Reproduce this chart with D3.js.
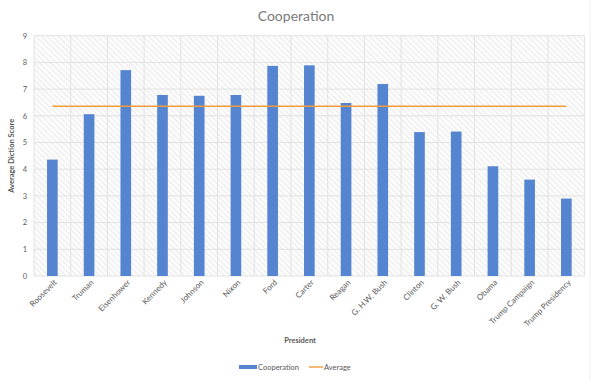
<!DOCTYPE html>
<html><head><meta charset="utf-8">
<script src="https://cdn.jsdelivr.net/npm/d3@7"></script>
<style>body{margin:0;background:#fff;} svg{display:block;font-family:Lato, "Open Sans", sans-serif;}</style>
</head><body>
<svg id="c" width="596" height="381"></svg>
<script>
const presidents = ["Roosevelt","Truman","Eisenhower","Kennedy","Johnson","Nixon","Ford","Carter","Reagan","G. H.W. Bush","Clinton","G. W. Bush","Obama","Trump Campaign","Trump Presidency"];
const cooperation = [4.36,6.06,7.71,6.78,6.75,6.78,7.87,7.89,6.48,7.19,5.39,5.41,4.11,3.61,2.90];
const averageValue = 6.36;
const yTicks = [0,1,2,3,4,5,6,7,8,9];

const svg = d3.select("#c");
const m = {l:34, r:584.7, t:35.7, b:276};
const x = d3.scaleBand().domain(presidents).range([m.l, m.r]).paddingInner(0.71).paddingOuter(0.355);
const xb = d3.scaleBand().domain(presidents).range([m.l, m.r]);
const y = d3.scaleLinear().domain([0,9]).range([m.b, m.t]);

const defs = svg.append("defs");
const pat = defs.append("pattern").attr("id","hatch").attr("patternUnits","userSpaceOnUse")
  .attr("width",4).attr("height",4).attr("patternTransform","rotate(45)");
pat.append("rect").attr("width",4).attr("height",4).attr("fill","#fcfcfc");
pat.append("line").attr("x1",0).attr("y1",0).attr("x2",4).attr("y2",0).attr("stroke","#e4e4e4").attr("stroke-width",1.4);

svg.append("rect").attr("x",m.l).attr("y",m.t).attr("width",m.r-m.l).attr("height",m.b-m.t).attr("fill","url(#hatch)");

// horizontal gridlines
svg.append("g").selectAll("line").data(yTicks).join("line")
  .attr("x1",m.l).attr("x2",m.r).attr("y1",d=>y(d)).attr("y2",d=>y(d))
  .attr("stroke","#e2e2e2").attr("stroke-width",1);
// vertical gridlines
const bounds = presidents.map(p=>xb(p)).concat([m.r]);
svg.append("g").selectAll("line").data(bounds).join("line")
  .attr("x1",d=>d).attr("x2",d=>d).attr("y1",m.t).attr("y2",m.b)
  .attr("stroke","#e2e2e2").attr("stroke-width",1);

// y tick labels
svg.append("g").selectAll("text").data(yTicks).join("text")
  .attr("x",27).attr("y",d=>y(d)+2.8).attr("text-anchor","end")
  .attr("font-size",7.5).attr("fill","#595959").text(d=>d);

// bars
svg.append("g").selectAll("rect").data(presidents).join("rect")
  .attr("x",d=>x(d)).attr("width",x.bandwidth())
  .attr("y",(d,i)=>y(cooperation[i])).attr("height",(d,i)=>y(0)-y(cooperation[i]))
  .attr("fill","#5585d1");

// average line
svg.append("line")
  .attr("x1",x(presidents[0])+x.bandwidth()/2).attr("x2",x(presidents[presidents.length-1])+x.bandwidth()/2)
  .attr("y1",y(averageValue)).attr("y2",y(averageValue))
  .attr("stroke","#f39a3a").attr("stroke-width",1.6);

// x labels
svg.append("g").selectAll("text").data(presidents).join("text")
  .attr("transform",d=>`translate(${x(d)+x.bandwidth()/2+5},${m.b+7}) rotate(-45)`)
  .attr("text-anchor","end").attr("font-size",8).attr("fill","#595959").text(d=>d);

// title
svg.append("text").attr("x",296).attr("y",21).attr("text-anchor","middle")
  .attr("font-size",14).attr("fill","#7a7a7a").text("Cooperation");

// axis titles
svg.append("text").attr("x",300).attr("y",343).attr("text-anchor","middle")
  .attr("font-size",7.5).attr("font-weight","bold").attr("fill","#595959").text("President");
svg.append("text").attr("transform",`translate(14,${(m.t+m.b)/2}) rotate(-90)`).attr("text-anchor","middle")
  .attr("font-size",7.5).attr("font-weight","bold").attr("fill","#595959").text("Average Diction Score");

// legend
svg.append("rect").attr("x",239).attr("y",365).attr("width",18).attr("height",4).attr("fill","#5585d1");
svg.append("text").attr("x",258).attr("y",369.8).attr("font-size",7.5).attr("fill","#595959").text("Cooperation");
svg.append("line").attr("x1",309).attr("x2",323).attr("y1",367).attr("y2",367).attr("stroke","#f39a3a").attr("stroke-width",1.4);
svg.append("text").attr("x",324).attr("y",369.8).attr("font-size",7.5).attr("fill","#595959").text("Average");

// right faint border
svg.append("line").attr("x1",590).attr("x2",590).attr("y1",0).attr("y2",381).attr("stroke","#eeeeee").attr("stroke-width",1);
</script>
</body></html>
